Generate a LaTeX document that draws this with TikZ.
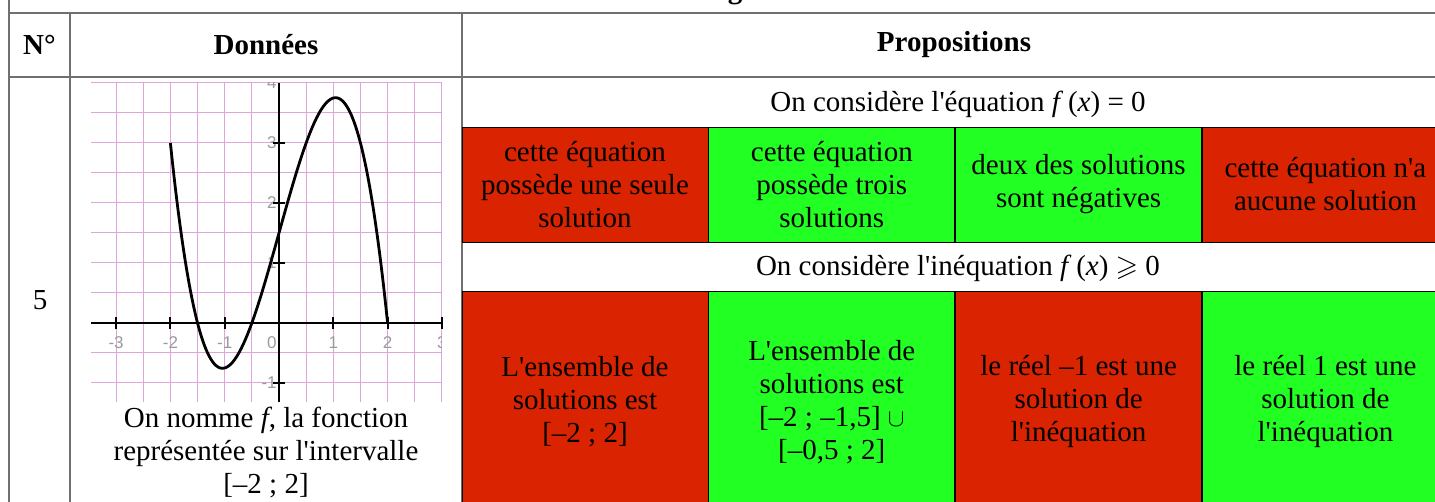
\documentclass[tikz,border=0pt]{standalone}
\usepackage{amssymb}
\usepackage{fontspec}
\setmainfont{Liberation Serif}[Ligatures=TeXOff]
\newfontfamily\axisfont{Liberation Sans}
\usetikzlibrary{positioning,calc}
\definecolor{rouge}{HTML}{DA2300}
\definecolor{vert}{HTML}{22FF22}
\definecolor{grille}{HTML}{DCA6DC}
\definecolor{bord}{HTML}{707070}
\definecolor{etiq}{HTML}{9A9A9A}
\newcommand{\cellfont}{\fontsize{29}{33}\selectfont}
\newcommand{\titrefont}{\fontsize{29}{33}\selectfont\bfseries}
\newcommand{\axefont}{\axisfont\fontsize{17}{17}\selectfont}

\begin{document}
\begin{tikzpicture}[x=1pt,y=-1pt,
    entete/.style={font=\titrefont,inner sep=0pt},
    texte/.style={font=\cellfont,align=center,inner sep=0pt},
    prop/.style={draw=black,line width=0.8pt,minimum width=246pt,inner sep=0pt,
      align=center,font=\cellfont},
    faux/.style={prop,fill=rouge},
    vrai/.style={prop,fill=vert},
    haut/.style={minimum height=115pt},
    bas/.style={minimum height=222pt},
    bordure/.style={bord,line width=1.3pt},
    graduation/.style={font=\axefont,text=etiq,inner sep=0pt}]
  \useasboundingbox (0,0) rectangle (1435,502);

  % --- Lignes du tableau ---
  \draw[bordure] (9,0) -- (9,520);
  \draw[bordure] (9,13) -- (1440,13);
  \draw[bordure] (9,77) -- (1440,77);
  \draw[bordure] (70,13) -- (70,520);
  \draw[bordure] (462,13) -- (462,520);

  % --- Reste de la ligne précédente ---
  \node[entete,anchor=base] (suite) at (735,-1) {g};

  % --- En-têtes ---
  \node[entete] (num) at (39.5,45) {N°};
  \node[entete] (donnees) at (266,45) {Données};
  \node[entete] (props) at (954,45) {Propositions};

  \node[texte] (rang) at (40,300) {5};

  % --- Énoncés ---
  \node[texte] (eq) at (958,104) {On considère l'équation \textit{f}\,(\textit{x}) = 0};
  \node[texte] (ineq) at (958,268) {On considère l'inéquation \textit{f}\,(\textit{x}) $\geqslant$ 0};

  % --- Propositions sur l'équation ---
  \node[faux,haut] (e1) at (585,184.5) {cette équation\\possède une seule\\solution};
  \node[vrai,haut,right=0pt of e1] (e2) {cette équation\\possède trois\\solutions};
  \node[vrai,haut,right=0pt of e2] (e3) {deux des solutions\\sont négatives};
  \node[faux,haut,right=0pt of e3] (e4) {cette équation n'a\\aucune solution};

  % --- Propositions sur l'inéquation ---
  \node[faux,bas] (i1) at (585,402) {L'ensemble de\\solutions est\\{[}–2 ; 2]};
  \node[vrai,bas,right=0pt of i1] (i2) {L'ensemble de\\solutions est\\{[}–2 ; –1,5] $\cup$\\{[}–0,5 ; 2]};
  \node[faux,bas,right=0pt of i2] (i3) {le réel –1 est une\\solution de\\l'inéquation};
  \node[vrai,bas,right=0pt of i3] (i4) {le réel 1 est une\\solution de\\l'inéquation};

  % --- Courbe de f ---
  \begin{scope}[shift={(279,323)},x=54.3pt,y=60pt]
    \foreach \k in {-3,-2.5,...,3.01}
      \draw[grille,line width=1pt] (\k,-1.32) -- (\k,4);
    \foreach \k in {-1,-0.5,...,4.01}
      \draw[grille,line width=1pt] (-3.46,\k) -- (3,\k);
    \begin{scope}
      \clip (-3.46,-1.32) rectangle (3,4);
      \foreach \k in {-3,-2,-1,1,2,3}
        \node[graduation] (lx\k) at (\k,-0.32) {\k};
      \node[graduation] (lx0) at (-0.13,-0.32) {0};
      \foreach \k in {-1,1,2,3,4}
        \node[graduation,anchor=east] (ly\k) at (-0.04,\k) {\k};
    \end{scope}
    \draw[black,line width=2.2pt] (-3.46,0) -- (3,0);
    \draw[black,line width=2.2pt] (0,-1.32) -- (0,4);
    \foreach \k in {-3,...,3}
      \draw[black,line width=2pt] (\k,-0.1) -- (\k,0.1);
    \foreach \k in {-1,1,2,3}
      \draw[black,line width=2pt] (-0.11,\k) -- (0.11,\k);
    \draw[black,line width=2.8pt,line join=round] plot[domain=-2:2,samples=120,smooth]
      (\x,{-(\x+1.5)*(\x+0.5)*(\x-2)});
  \end{scope}

  \node[texte] (legende) at (266,453) {On nomme \textit{f}, la fonction\\représentée sur l'intervalle\\{[}–2 ; 2]};
\end{tikzpicture}
\end{document}
